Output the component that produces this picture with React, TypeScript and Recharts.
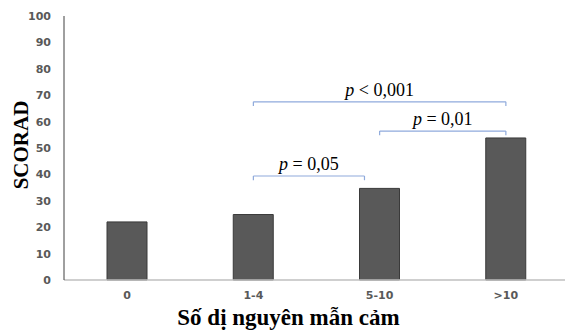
import { Bar, BarChart, Label, ReferenceLine, XAxis, YAxis } from 'recharts';

const groups = ['0', '1-4', '5-10', '>10'];
const scorad = [22, 24.8, 34.7, 53.8];
const yTicks = [0, 10, 20, 30, 40, 50, 60, 70, 80, 90, 100];

// significance brackets: from / to are group indexes, y is SCORAD level
const bracketFrom = [1, 2, 1];
const bracketTo = [3, 3, 1.88];
const bracketY = [67.5, 56.4, 39.4];
const bracketOp = ['<', '=', '='];
const bracketP = ['0,001', '0,01', '0,05'];

const data = groups.map((name, i) => ({ name, value: scorad[i], idx: i }));

const tickDrop = 1.6;
const bracketColor = '#8faadc';
const serif = '"Liberation Serif", "Times New Roman", serif';
const tickFont = { fill: '#595959', fontSize: 11, fontWeight: 'bold', fontFamily: '"DejaVu Sans", Verdana, sans-serif' };

const PLabel = ({ viewBox, op, p }: any) => {
  const x = viewBox.x + viewBox.width / 2;
  const y = viewBox.y - 6;
  return (
    <text x={x} y={y} textAnchor="middle" fontFamily={serif} fontSize={18} fill="#000">
      <tspan fontStyle="italic">p</tspan>
      {` ${op} ${p}`}
    </text>
  );
};

const App = () => {
  return (
    <div style={{ position: 'absolute', left: 0, top: 0 }}>
      <BarChart
        width={565}
        height={332}
        data={data}
        margin={{ top: 16, right: 0, bottom: 0, left: 0 }}
        barSize={40}
      >
        <XAxis
          dataKey="name"
          height={52}
          padding={{ left: 0, right: -4 }}
          tickLine={false}
          tickSize={0}
          tickMargin={11}
          axisLine={{ stroke: '#bfbfbf', strokeWidth: 1.5 }}
          tick={tickFont}
        >
          <Label
            content={({ viewBox }: any) => (
              <text
                x={viewBox.x + viewBox.width / 2 - 26}
                y={viewBox.y + 45}
                textAnchor="middle"
                fontFamily={serif}
                fontWeight="bold"
                fontSize={23}
                fill="#000"
              >
                Số dị nguyên mẫn cảm
              </text>
            )}
          />
        </XAxis>
        <XAxis
          xAxisId="bracket"
          dataKey="idx"
          type="number"
          domain={[-0.5, 3.5]}
          allowDataOverflow
          padding={{ left: 0, right: -4 }}
          hide
        />
        <YAxis
          width={64}
          domain={[0, 100]}
          ticks={yTicks}
          interval={0}
          tickLine={false}
          tickSize={0}
          tickMargin={13}
          axisLine={{ stroke: '#404040', strokeWidth: 1 }}
          tick={tickFont}
        >
          <Label
            content={({ viewBox }: any) => {
              const cy = viewBox.y + viewBox.height / 2 - 3;
              return (
                <text
                  x={21}
                  y={cy}
                  transform={`rotate(-90, 21, ${cy})`}
                  textAnchor="middle"
                  dominantBaseline="central"
                  fontFamily={serif}
                  fontWeight="bold"
                  fontSize={21}
                  fill="#000"
                >
                  SCORAD
                </text>
              );
            }}
          />
        </YAxis>
        <Bar dataKey="value" fill="#595959" stroke="#3a3a3a" strokeWidth={1} isAnimationActive={false} />
        {bracketY.map((y, i) => (
          <ReferenceLine
            key={`h${i}`}
            xAxisId="bracket"
            segment={[
              { x: bracketFrom[i], y },
              { x: bracketTo[i], y },
            ]}
            stroke={bracketColor}
            strokeWidth={1.2}
            label={(props: any) => <PLabel {...props} op={bracketOp[i]} p={bracketP[i]} />}
          />
        ))}
        {bracketY.map((y, i) => (
          <ReferenceLine
            key={`l${i}`}
            xAxisId="bracket"
            segment={[
              { x: bracketFrom[i], y },
              { x: bracketFrom[i], y: y - tickDrop },
            ]}
            stroke={bracketColor}
            strokeWidth={1.2}
          />
        ))}
        {bracketY.map((y, i) => (
          <ReferenceLine
            key={`r${i}`}
            xAxisId="bracket"
            segment={[
              { x: bracketTo[i], y },
              { x: bracketTo[i], y: y - tickDrop },
            ]}
            stroke={bracketColor}
            strokeWidth={1.2}
          />
        ))}
      </BarChart>
    </div>
  );
};

export default App;
